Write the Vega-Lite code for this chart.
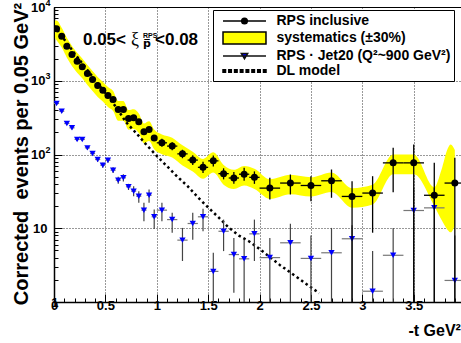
{
  "$schema": "https://vega.github.io/schema/vega-lite/v6.json",
  "width": 407,
  "height": 295,
  "autosize": {"type": "none"},
  "padding": {"left": 54, "top": 7, "right": 0, "bottom": 41},
  "background": "white",
  "config": {
    "font": "Liberation Sans",
    "view": {"stroke": "black", "strokeWidth": 1},
    "axis": {"labelFont": "Liberation Sans", "labelFontWeight": "bold", "labelColor": "black", "titleFont": "Liberation Sans", "titleFontWeight": "bold", "titleColor": "black", "domainColor": "black", "tickColor": "black"},
    "legend": {"fillColor": "white", "strokeColor": "black", "padding": 3}
  },
  "datasets": {
    "rps": [
      {"t": 0.025, "v": 5060, "tlo": 0, "thi": 0.05, "lo": 4860, "hi": 5260},
      {"t": 0.075, "v": 4020, "tlo": 0.05, "thi": 0.1, "lo": 3860, "hi": 4180},
      {"t": 0.125, "v": 2940, "tlo": 0.1, "thi": 0.15, "lo": 2820, "hi": 3060},
      {"t": 0.175, "v": 2270, "tlo": 0.15, "thi": 0.2, "lo": 2180, "hi": 2360},
      {"t": 0.225, "v": 1840, "tlo": 0.2, "thi": 0.25, "lo": 1770, "hi": 1910},
      {"t": 0.275, "v": 1545, "tlo": 0.25, "thi": 0.3, "lo": 1480, "hi": 1610},
      {"t": 0.325, "v": 1254, "tlo": 0.3, "thi": 0.35, "lo": 1200, "hi": 1310},
      {"t": 0.375, "v": 1040, "tlo": 0.35, "thi": 0.4, "lo": 995, "hi": 1085},
      {"t": 0.425, "v": 862, "tlo": 0.4, "thi": 0.45, "lo": 825, "hi": 900},
      {"t": 0.475, "v": 745, "tlo": 0.45, "thi": 0.5, "lo": 712, "hi": 778},
      {"t": 0.525, "v": 631, "tlo": 0.5, "thi": 0.55, "lo": 602, "hi": 660},
      {"t": 0.575, "v": 557, "tlo": 0.55, "thi": 0.6, "lo": 530, "hi": 584},
      {"t": 0.625, "v": 408, "tlo": 0.6, "thi": 0.65, "lo": 388, "hi": 428},
      {"t": 0.675, "v": 408, "tlo": 0.65, "thi": 0.7, "lo": 388, "hi": 428},
      {"t": 0.725, "v": 308, "tlo": 0.7, "thi": 0.75, "lo": 292, "hi": 324},
      {"t": 0.775, "v": 315, "tlo": 0.75, "thi": 0.8, "lo": 299, "hi": 331},
      {"t": 0.825, "v": 278, "tlo": 0.8, "thi": 0.85, "lo": 263, "hi": 293},
      {"t": 0.875, "v": 203, "tlo": 0.85, "thi": 0.9, "lo": 191, "hi": 215},
      {"t": 0.925, "v": 218, "tlo": 0.9, "thi": 0.95, "lo": 206, "hi": 230},
      {"t": 0.975, "v": 168, "tlo": 0.95, "thi": 1.0, "lo": 158, "hi": 178},
      {"t": 1.05, "v": 144, "tlo": 1.0, "thi": 1.1, "lo": 127, "hi": 163},
      {"t": 1.15, "v": 130, "tlo": 1.1, "thi": 1.2, "lo": 114, "hi": 147},
      {"t": 1.25, "v": 102, "tlo": 1.2, "thi": 1.3, "lo": 89, "hi": 116},
      {"t": 1.35, "v": 84, "tlo": 1.3, "thi": 1.4, "lo": 72, "hi": 98},
      {"t": 1.45, "v": 67, "tlo": 1.4, "thi": 1.5, "lo": 56, "hi": 80},
      {"t": 1.55, "v": 82, "tlo": 1.5, "thi": 1.6, "lo": 69, "hi": 97},
      {"t": 1.65, "v": 55, "tlo": 1.6, "thi": 1.7, "lo": 46, "hi": 65},
      {"t": 1.75, "v": 48, "tlo": 1.7, "thi": 1.8, "lo": 40, "hi": 58},
      {"t": 1.85, "v": 54, "tlo": 1.8, "thi": 1.9, "lo": 44, "hi": 66},
      {"t": 1.95, "v": 49, "tlo": 1.9, "thi": 2.0, "lo": 40, "hi": 59},
      {"t": 2.1, "v": 35, "tlo": 2.0, "thi": 2.2, "lo": 24.5, "hi": 48.3},
      {"t": 2.3, "v": 41, "tlo": 2.2, "thi": 2.4, "lo": 28.7, "hi": 53.5},
      {"t": 2.5, "v": 38, "tlo": 2.4, "thi": 2.6, "lo": 23.3, "hi": 50.8},
      {"t": 2.7, "v": 44, "tlo": 2.6, "thi": 2.8, "lo": 25.9, "hi": 62.6},
      {"t": 2.9, "v": 27, "tlo": 2.8, "thi": 3.0, "lo": 0.3, "hi": 43.5},
      {"t": 3.1, "v": 30, "tlo": 3.0, "thi": 3.2, "lo": 8.7, "hi": 50.8},
      {"t": 3.3, "v": 77, "tlo": 3.2, "thi": 3.4, "lo": 30.8, "hi": 123},
      {"t": 3.5, "v": 77, "tlo": 3.4, "thi": 3.6, "lo": 0.3, "hi": 137},
      {"t": 3.7, "v": 28, "tlo": 3.6, "thi": 3.8, "lo": 0.3, "hi": 77},
      {"t": 3.9, "v": 41, "tlo": 3.8, "thi": 4.0, "lo": 0.3, "hi": 90}
    ],
    "jet": [
      {"t": 0.025, "v": 492, "tlo": 0, "thi": 0.05, "lo": 470, "hi": 515},
      {"t": 0.075, "v": 386, "tlo": 0.05, "thi": 0.1, "lo": 368, "hi": 404},
      {"t": 0.125, "v": 263, "tlo": 0.1, "thi": 0.15, "lo": 251, "hi": 275},
      {"t": 0.175, "v": 230, "tlo": 0.15, "thi": 0.2, "lo": 219, "hi": 241},
      {"t": 0.225, "v": 160, "tlo": 0.2, "thi": 0.25, "lo": 152, "hi": 168},
      {"t": 0.275, "v": 160, "tlo": 0.25, "thi": 0.3, "lo": 152, "hi": 168},
      {"t": 0.325, "v": 123, "tlo": 0.3, "thi": 0.35, "lo": 116, "hi": 130},
      {"t": 0.375, "v": 103, "tlo": 0.35, "thi": 0.4, "lo": 97, "hi": 109},
      {"t": 0.425, "v": 85.5, "tlo": 0.4, "thi": 0.45, "lo": 80, "hi": 91},
      {"t": 0.475, "v": 71.6, "tlo": 0.45, "thi": 0.5, "lo": 66, "hi": 77},
      {"t": 0.525, "v": 83.7, "tlo": 0.5, "thi": 0.55, "lo": 77, "hi": 90},
      {"t": 0.575, "v": 61.3, "tlo": 0.55, "thi": 0.6, "lo": 56, "hi": 67},
      {"t": 0.625, "v": 44.8, "tlo": 0.6, "thi": 0.65, "lo": 40, "hi": 50},
      {"t": 0.675, "v": 48.3, "tlo": 0.65, "thi": 0.7, "lo": 43, "hi": 54},
      {"t": 0.725, "v": 36.5, "tlo": 0.7, "thi": 0.75, "lo": 33, "hi": 40},
      {"t": 0.775, "v": 31.8, "tlo": 0.75, "thi": 0.8, "lo": 27.1, "hi": 37.1},
      {"t": 0.825, "v": 27.2, "tlo": 0.8, "thi": 0.85, "lo": 22.2, "hi": 31.7},
      {"t": 0.875, "v": 17.6, "tlo": 0.85, "thi": 0.9, "lo": 12.4, "hi": 22.2},
      {"t": 0.925, "v": 28, "tlo": 0.9, "thi": 0.95, "lo": 22.2, "hi": 33.6},
      {"t": 0.975, "v": 14.3, "tlo": 0.95, "thi": 1.0, "lo": 9.8, "hi": 17.9},
      {"t": 1.05, "v": 17.6, "tlo": 1.0, "thi": 1.1, "lo": 12.4, "hi": 22.2},
      {"t": 1.15, "v": 13.1, "tlo": 1.1, "thi": 1.2, "lo": 8.7, "hi": 16.2},
      {"t": 1.25, "v": 6.9, "tlo": 1.2, "thi": 1.3, "lo": 3.6, "hi": 10.1},
      {"t": 1.35, "v": 11.6, "tlo": 1.3, "thi": 1.4, "lo": 7.0, "hi": 16.2},
      {"t": 1.45, "v": 14.3, "tlo": 1.4, "thi": 1.5, "lo": 9.1, "hi": 18.4},
      {"t": 1.55, "v": 2.6, "tlo": 1.5, "thi": 1.6, "lo": 0.3, "hi": 4.64},
      {"t": 1.65, "v": 9.1, "tlo": 1.6, "thi": 1.7, "lo": 4.9, "hi": 13.1},
      {"t": 1.75, "v": 4.4, "tlo": 1.7, "thi": 1.8, "lo": 1.33, "hi": 7.4},
      {"t": 1.85, "v": 3.85, "tlo": 1.8, "thi": 1.9, "lo": 0.3, "hi": 7.0},
      {"t": 1.95, "v": 8.4, "tlo": 1.9, "thi": 2.0, "lo": 3.6, "hi": 13.1},
      {"t": 2.1, "v": 4.0, "tlo": 2.0, "thi": 2.2, "lo": 0.3, "hi": 7.4},
      {"t": 2.3, "v": 6.35, "tlo": 2.2, "thi": 2.4, "lo": 0.3, "hi": 11.5},
      {"t": 2.5, "v": 3.9, "tlo": 2.4, "thi": 2.6, "lo": 0.3, "hi": 8.0},
      {"t": 2.7, "v": 4.65, "tlo": 2.6, "thi": 2.8, "lo": 0.3, "hi": 10.1},
      {"t": 2.9, "v": 7.2, "tlo": 2.8, "thi": 3.0, "lo": 0.3, "hi": 11},
      {"t": 3.1, "v": 1.4, "tlo": 3.0, "thi": 3.2, "lo": 0.3, "hi": 4.9},
      {"t": 3.3, "v": 4.3, "tlo": 3.2, "thi": 3.4, "lo": 0.3, "hi": 10.1},
      {"t": 3.5, "v": 17.4, "tlo": 3.4, "thi": 3.6, "lo": 0.3, "hi": 35},
      {"t": 3.7, "v": 18.9, "tlo": 3.6, "thi": 3.8, "lo": 0.3, "hi": 35},
      {"t": 3.9, "v": 1.96, "tlo": 3.8, "thi": 4.0, "lo": 0.3, "hi": 8}
    ],
    "band": [
      {"t": 0.01, "lo": 3800, "hi": 6500},
      {"t": 0.025, "lo": 3542, "hi": 6578},
      {"t": 0.075, "lo": 2814, "hi": 5226},
      {"t": 0.125, "lo": 2058, "hi": 3822},
      {"t": 0.175, "lo": 1589, "hi": 2951},
      {"t": 0.225, "lo": 1288, "hi": 2392},
      {"t": 0.275, "lo": 1082, "hi": 2009},
      {"t": 0.325, "lo": 878, "hi": 1630},
      {"t": 0.375, "lo": 728, "hi": 1352},
      {"t": 0.425, "lo": 603, "hi": 1121},
      {"t": 0.475, "lo": 522, "hi": 969},
      {"t": 0.525, "lo": 442, "hi": 820},
      {"t": 0.575, "lo": 390, "hi": 724},
      {"t": 0.625, "lo": 286, "hi": 530},
      {"t": 0.675, "lo": 286, "hi": 530},
      {"t": 0.725, "lo": 216, "hi": 400},
      {"t": 0.775, "lo": 221, "hi": 410},
      {"t": 0.825, "lo": 195, "hi": 361},
      {"t": 0.875, "lo": 142, "hi": 264},
      {"t": 0.925, "lo": 153, "hi": 283},
      {"t": 0.975, "lo": 118, "hi": 218},
      {"t": 1.05, "lo": 101, "hi": 187},
      {"t": 1.15, "lo": 91, "hi": 169},
      {"t": 1.25, "lo": 71, "hi": 133},
      {"t": 1.35, "lo": 59, "hi": 109},
      {"t": 1.45, "lo": 47, "hi": 87},
      {"t": 1.55, "lo": 57, "hi": 107},
      {"t": 1.65, "lo": 39, "hi": 72},
      {"t": 1.75, "lo": 34, "hi": 62},
      {"t": 1.85, "lo": 38, "hi": 70},
      {"t": 1.95, "lo": 34, "hi": 64},
      {"t": 2.1, "lo": 25, "hi": 46},
      {"t": 2.3, "lo": 29, "hi": 53},
      {"t": 2.5, "lo": 27, "hi": 49},
      {"t": 2.7, "lo": 31, "hi": 57},
      {"t": 2.9, "lo": 19, "hi": 35},
      {"t": 3.1, "lo": 21, "hi": 39},
      {"t": 3.3, "lo": 54, "hi": 100},
      {"t": 3.5, "lo": 54, "hi": 100},
      {"t": 3.7, "lo": 20, "hi": 36},
      {"t": 3.77, "lo": 13, "hi": 62},
      {"t": 3.83, "lo": 9.5, "hi": 120},
      {"t": 3.86, "lo": 8.8, "hi": 137},
      {"t": 3.9, "lo": 11, "hi": 115}
    ],
    "dl": [
      {"t": 0.0, "v": 5623}, {"t": 0.1, "v": 3631}, {"t": 0.2, "v": 2344}, {"t": 0.3, "v": 1549},
      {"t": 0.4, "v": 1023}, {"t": 0.5, "v": 676}, {"t": 0.6, "v": 447}, {"t": 0.7, "v": 275},
      {"t": 0.8, "v": 195}, {"t": 0.9, "v": 135}, {"t": 1.0, "v": 95.5}, {"t": 1.1, "v": 69.2},
      {"t": 1.2, "v": 50.1}, {"t": 1.3, "v": 37.2}, {"t": 1.4, "v": 26.3}, {"t": 1.5, "v": 19.1},
      {"t": 1.6, "v": 14.1}, {"t": 1.7, "v": 10.2}, {"t": 1.8, "v": 7.94}, {"t": 1.9, "v": 6.61},
      {"t": 2.0, "v": 5.25}, {"t": 2.1, "v": 4.07}, {"t": 2.2, "v": 3.16}, {"t": 2.3, "v": 2.51},
      {"t": 2.4, "v": 2.0}, {"t": 2.5, "v": 1.58}, {"t": 2.58, "v": 1.32}
    ],
    "leg": [
      {"s": "RPS inclusive"},
      {"s": "systematics (±30%)"},
      {"s": "RPS · Jet20 (Q²~900 GeV²)"},
      {"s": "DL model"}
    ],
    "txtmain": [
      {"t": 0.282, "v": 3054, "s": "0.05<"},
      {"t": 0.983, "v": 3054, "s": "<0.08"}
    ],
    "txtxi": [{"t": 0.749, "v": 3054, "s": "ξ"}],
    "txtsup": [{"t": 0.866, "v": 3801, "s": "RPS"}],
    "txtsub": [{"t": 0.866, "v": 2870, "s": "p̅"}]
  },
  "layer": [
    {
      "data": {"name": "band"},
      "mark": {"type": "area", "color": "#ffff00", "interpolate": "monotone", "clip": true},
      "encoding": {
        "x": {"field": "t", "type": "quantitative",
          "scale": {"domain": [0, 3.96], "nice": false, "zero": false},
          "axis": {"orient": "bottom", "values": [0, 0.5, 1, 1.5, 2, 2.5, 3, 3.5], "format": "~g",
            "labelFontSize": 13, "labelPadding": 5, "labelFlush": false, "tickSize": -8, "tickWidth": 1,
            "domainWidth": 1.5, "grid": true, "gridColor": "black", "gridDash": [1, 2], "gridOpacity": 0.8,
            "title": "-t GeV²", "titleFontSize": 16, "titleAlign": "left",
            "titleX": 354, "titleY": 33, "titleBaseline": "alphabetic"}},
        "y": {"field": "lo", "type": "quantitative",
          "scale": {"type": "log", "domain": [1, 10000], "nice": false},
          "axis": {"orient": "left", "values": [1, 10, 100, 1000, 10000],
            "labelExpr": "datum.value < 2 ? '1' : ''",
            "labelFontSize": 13, "labelPadding": 4, "labelFlush": false, "tickSize": -8, "tickWidth": 1,
            "domainWidth": 1.5, "grid": true, "gridColor": "black", "gridDash": [1, 2], "gridOpacity": 0.8,
            "title": "Corrected\u00a0 events per 0.05 GeV²", "titleFontSize": 20, "titleX": -27, "titleY": 146.5,
            "titleAngle": 270, "titleAlign": "center", "titleBaseline": "alphabetic"}},
        "y2": {"field": "hi"}
      }
    },
    {
      "data": {"name": "dl"},
      "mark": {"type": "line", "color": "black", "strokeWidth": 2.5, "strokeDash": [2.5, 3], "clip": true},
      "encoding": {
        "x": {"field": "t", "type": "quantitative",
          "axis": {"orient": "bottom", "values": [0.1,0.2,0.3,0.4,0.6,0.7,0.8,0.9,1.1,1.2,1.3,1.4,1.6,1.7,1.8,1.9,2.1,2.2,2.3,2.4,2.6,2.7,2.8,2.9,3.1,3.2,3.3,3.4,3.6,3.7,3.8,3.9],
            "labels": false, "domain": false, "grid": false, "tickSize": -4, "tickWidth": 1, "title": null}},
        "y": {"field": "v", "type": "quantitative",
          "axis": {"orient": "left", "values": [2,3,4,5,6,7,8,9,20,30,40,50,60,70,80,90,200,300,400,500,600,700,800,900,2000,3000,4000,5000,6000,7000,8000,9000],
            "labels": false, "domain": false, "grid": false, "tickSize": -4, "tickWidth": 1, "title": null}}
      }
    },
    {
      "data": {"name": "jet"},
      "mark": {"type": "rule", "color": "#444444", "strokeWidth": 1.2, "clip": true},
      "encoding": {
        "x": {"field": "t", "type": "quantitative", "axis": null},
        "y": {"field": "lo", "type": "quantitative",
          "axis": {"orient": "left", "values": [10], "labelExpr": "'10'",
            "labelFontSize": 13, "labelPadding": 7, "labelFlush": false,
            "ticks": false, "domain": false, "grid": false, "title": null}},
        "y2": {"field": "hi"}
      }
    },
    {
      "data": {"name": "jet"},
      "mark": {"type": "rule", "color": "#777777", "strokeWidth": 1.2, "clip": true},
      "encoding": {
        "x": {"field": "tlo", "type": "quantitative", "axis": null},
        "x2": {"field": "thi"},
        "y": {"field": "v", "type": "quantitative",
          "axis": {"orient": "left", "values": [100, 1000, 10000], "labelExpr": "'10'",
            "labelFontSize": 13, "labelPadding": 9, "labelFlush": false,
            "ticks": false, "domain": false, "grid": false, "title": null}}
      }
    },
    {
      "data": {"name": "jet"},
      "mark": {"type": "point", "shape": "triangle-down", "filled": true, "color": "#0000ff", "size": 40, "opacity": 1, "clip": true},
      "encoding": {
        "x": {"field": "t", "type": "quantitative", "axis": null},
        "y": {"field": "v", "type": "quantitative", "axis": null}
      }
    },
    {
      "data": {"name": "rps"},
      "mark": {"type": "rule", "color": "black", "strokeWidth": 1.3, "clip": true},
      "encoding": {
        "x": {"field": "t", "type": "quantitative", "axis": null},
        "y": {"field": "lo", "type": "quantitative", "axis": null},
        "y2": {"field": "hi"}
      }
    },
    {
      "data": {"name": "rps"},
      "mark": {"type": "rule", "color": "black", "strokeWidth": 1.3, "clip": true},
      "encoding": {
        "x": {"field": "tlo", "type": "quantitative", "axis": null},
        "x2": {"field": "thi"},
        "y": {"field": "v", "type": "quantitative",
          "axis": {"orient": "left", "values": [100, 1000, 10000],
            "labelExpr": "datum.value >= 10000 ? '4' : datum.value >= 1000 ? '3' : '2'",
            "labelFontSize": 9, "labelPadding": 4, "labelOffset": -5, "labelFlush": false,
            "ticks": false, "domain": false, "grid": false, "title": null}}
      }
    },
    {
      "data": {"name": "rps"},
      "mark": {"type": "point", "shape": "circle", "filled": true, "color": "black", "size": 49, "opacity": 1, "clip": true},
      "encoding": {
        "x": {"field": "t", "type": "quantitative", "axis": null},
        "y": {"field": "v", "type": "quantitative", "axis": null}
      }
    },
    {
      "data": {"name": "txtmain"},
      "mark": {"type": "text", "align": "left", "baseline": "alphabetic", "font": "Liberation Sans", "fontWeight": "bold", "fontSize": 17, "color": "black"},
      "encoding": {
        "x": {"field": "t", "type": "quantitative", "axis": null},
        "y": {"field": "v", "type": "quantitative", "axis": null},
        "text": {"field": "s", "type": "nominal"}
      }
    },
    {
      "data": {"name": "txtxi"},
      "mark": {"type": "text", "align": "left", "baseline": "alphabetic", "font": "Liberation Serif", "fontWeight": "normal", "fontSize": 18, "color": "black"},
      "encoding": {
        "x": {"field": "t", "type": "quantitative", "axis": null},
        "y": {"field": "v", "type": "quantitative", "axis": null},
        "text": {"field": "s", "type": "nominal"}
      }
    },
    {
      "data": {"name": "txtsup"},
      "mark": {"type": "text", "align": "left", "baseline": "alphabetic", "font": "Liberation Sans", "fontWeight": "bold", "fontSize": 7, "color": "black"},
      "encoding": {
        "x": {"field": "t", "type": "quantitative", "axis": null},
        "y": {"field": "v", "type": "quantitative", "axis": null},
        "text": {"field": "s", "type": "nominal"}
      }
    },
    {
      "data": {"name": "txtsub"},
      "mark": {"type": "text", "align": "left", "baseline": "alphabetic", "font": "DejaVu Sans", "fontWeight": "bold", "fontSize": 11, "color": "black"},
      "encoding": {
        "x": {"field": "t", "type": "quantitative", "axis": null},
        "y": {"field": "v", "type": "quantitative", "axis": null},
        "text": {"field": "s", "type": "nominal"}
      }
    },
    {
      "data": {"name": "leg"},
      "mark": {"type": "point", "filled": true, "opacity": 1, "clip": true},
      "encoding": {
        "x": {"datum": -1, "type": "quantitative", "axis": null},
        "y": {"datum": 100, "type": "quantitative", "axis": null},
        "fill": {"field": "s", "type": "nominal",
          "scale": {"domain": ["RPS inclusive", "systematics (±30%)", "RPS · Jet20 (Q²~900 GeV²)", "DL model"],
            "range": ["black", "#ffff00", "#0000ff", "black"]},
          "legend": {"title": null, "orient": "none", "legendX": 159, "legendY": 3, "padding": 3,
            "fillColor": "white", "strokeColor": "black",
            "symbolSize": 196, "symbolOffset": 20.5, "labelOffset": 24,
            "labelFont": "Liberation Sans", "labelFontWeight": "bold", "labelFontSize": 14, "labelColor": "black",
            "labelLimit": 400, "symbolOpacity": 1,
            "rowPadding": 0}},
        "stroke": {"field": "s", "type": "nominal",
          "scale": {"domain": ["RPS inclusive", "systematics (±30%)", "RPS · Jet20 (Q²~900 GeV²)", "DL model"],
            "range": ["black", "black", "#111111", "black"]}},
        "shape": {"field": "s", "type": "nominal",
          "scale": {"domain": ["RPS inclusive", "systematics (±30%)", "RPS · Jet20 (Q²~900 GeV²)", "DL model"],
            "range": [
              "M-3.07,0H3.07M0.4,0A0.4,0.4,0,1,1,-0.4,0A0.4,0.4,0,1,1,0.4,0Z",
              "M-3.07,-0.86H3.07V0.86H-3.07Z",
              "M-3.07,0H3.07M-0.45,-0.35H0.45L0,0.4Z",
              "M-3.07,-0.18h0.36v0.36h-0.36ZM-2.244,-0.18h0.36v0.36h-0.36ZM-1.418,-0.18h0.36v0.36h-0.36ZM-0.592,-0.18h0.36v0.36h-0.36ZM0.234,-0.18h0.36v0.36h-0.36ZM1.06,-0.18h0.36v0.36h-0.36ZM1.886,-0.18h0.36v0.36h-0.36ZM2.712,-0.18h0.36v0.36h-0.36Z"
            ]}}
      }
    }
  ],
  "resolve": {"axis": {"x": "independent", "y": "independent"}}
}
